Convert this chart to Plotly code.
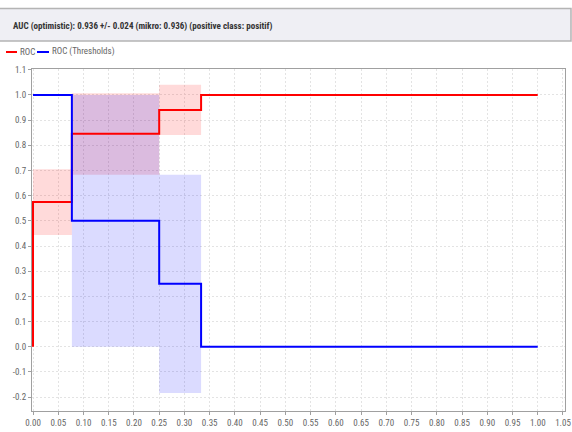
import plotly.graph_objects as go

W, H = 572, 432

# ---- data ----
roc_fpr = [0.0, 0.0, 0.077, 0.25, 0.333, 1.0]
roc_tpr = [0.0, 0.575, 0.846, 0.94, 1.0, 1.0]

thr_fpr = [0.0, 0.077, 0.25, 0.333, 1.0]
thr_val = [1.0, 0.5, 0.25, 0.0, 0.0]

roc_band_x0 = [0.0, 0.077, 0.25]
roc_band_x1 = [0.077, 0.25, 0.333]
roc_band_lo = [0.444, 0.683, 0.841]
roc_band_hi = [0.705, 1.007, 1.04]

thr_band_x0 = [0.077, 0.25]
thr_band_x1 = [0.25, 0.333]
thr_band_lo = [0.0, -0.184]
thr_band_hi = [1.0, 0.683]

x_ticks = [round(i * 0.05, 2) for i in range(22)]
y_ticks = [round(-0.2 + i * 0.1, 1) for i in range(14)]

title_text = "AUC (optimistic): 0.936 +/- 0.024 (mikro: 0.936) (positive class: positif)"
legend_names = ["ROC", "ROC (Thresholds)"]

RED = "#ff0000"
BLUE = "#0000ff"
RED_FILL = "rgba(255,0,0,0.145)"
BLUE_FILL = "rgba(0,0,255,0.14)"

FONT = "Roboto Condensed, Open Sans Condensed, sans-serif"

fig = go.Figure()

def add_bands(x0s, x1s, los, his, color):
    for x0, x1, lo, hi in zip(x0s, x1s, los, his):
        fig.add_trace(go.Scatter(
            x=[x0, x1, x1, x0, x0], y=[lo, lo, hi, hi, lo],
            fill="toself", fillcolor=color, mode="none",
            hoverinfo="skip", showlegend=False))

add_bands(roc_band_x0, roc_band_x1, roc_band_lo, roc_band_hi, RED_FILL)
add_bands(thr_band_x0, thr_band_x1, thr_band_lo, thr_band_hi, BLUE_FILL)

fig.add_trace(go.Scatter(x=roc_fpr, y=roc_tpr, mode="lines", line=dict(color=RED, width=2, shape="hv"),
                         name=legend_names[0], showlegend=False))
fig.add_trace(go.Scatter(x=thr_fpr, y=thr_val, mode="lines", line=dict(color=BLUE, width=2, shape="hv"),
                         name=legend_names[1], showlegend=False))

def px(x):
    return x / W

def py(y):
    return 1 - y / H

shapes = [
    # title box
    dict(type="rect", xref="paper", yref="paper", x0=px(-2), x1=px(571), y0=py(41), y1=py(8.5),
         fillcolor="#efeff4", line=dict(color="#b4b4b4", width=1.5), layer="below"),
    # legend samples
    dict(type="line", xref="paper", yref="paper", x0=px(6), x1=px(17), y0=py(52), y1=py(52),
         line=dict(color=RED, width=2)),
    dict(type="line", xref="paper", yref="paper", x0=px(37), x1=px(49), y0=py(52), y1=py(52),
         line=dict(color=BLUE, width=2)),
]

annotations = [
    dict(text=title_text, xref="paper", yref="paper", x=px(11), y=py(26), xanchor="left", yanchor="middle",
         showarrow=False, font=dict(family=FONT, size=9, color="#333333", weight="bold")),
    dict(text=legend_names[0], xref="paper", yref="paper", x=px(18), y=py(52), xanchor="left", yanchor="middle",
         showarrow=False, font=dict(family=FONT, size=9, color="#666666")),
    dict(text=legend_names[1], xref="paper", yref="paper", x=px(50), y=py(52), xanchor="left", yanchor="middle",
         showarrow=False, font=dict(family=FONT, size=9, color="#666666")),
]

axis_common = dict(
    showgrid=True, gridcolor="#e3e3e3", griddash="2px,2px", gridwidth=1,
    zeroline=False, showline=True, linecolor="#a0a0a0", linewidth=1, mirror=True,
    ticks="outside", ticklen=3, tickcolor="#a0a0a0",
    tickfont=dict(family=FONT, size=9, color="#666666"), automargin=False,
)

fig.update_layout(
    width=W, height=H,
    margin=dict(l=0, r=0, t=0, b=0),
    paper_bgcolor="white", plot_bgcolor="white",
    showlegend=False,
    xaxis=dict(range=[-0.002, 1.054], domain=[px(32), px(565)], tickvals=x_ticks,
               ticktext=[f"{v:.2f}" for v in x_ticks], **axis_common),
    yaxis=dict(range=[-0.255, 1.103], domain=[py(411), py(69)], tickvals=y_ticks,
               ticktext=[f"{v:.1f}" for v in y_ticks], **axis_common),
    shapes=shapes,
    annotations=annotations,
)

fig.write_html("out.html", config={"displayModeBar": False},
               post_script="document.body.style.margin='0';")
